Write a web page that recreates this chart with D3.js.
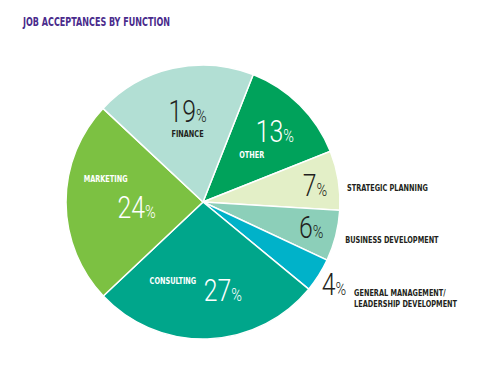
<!DOCTYPE html>
<html>
<head>
<meta charset="utf-8">
<script src="https://cdn.jsdelivr.net/npm/d3@7"></script>
<style>
  body { margin: 0; background: #fff; }
  .cond { font-family: "Liberation Sans Narrow", "DejaVu Sans Condensed", "Roboto", sans-serif; font-weight: bold; }
  .big { font-family: "Roboto", "Liberation Sans", sans-serif; font-weight: 300; }
</style>
</head>
<body>
<svg width="501" height="377"></svg>
<script>
// data, clockwise from the Finance/Other boundary
const categories = ["Other", "Strategic Planning", "Business Development", "General Management/Leadership Development", "Consulting", "Marketing", "Finance"];
const shares = [13, 7, 6, 4, 27, 24, 19];
const colors = ["#00a25b", "#e3efc7", "#8ccfb9", "#00b2c9", "#00a68b", "#7cc142", "#b2dfd4"];
const names = [["OTHER"], ["STRATEGIC PLANNING"], ["BUSINESS DEVELOPMENT"], ["GENERAL MANAGEMENT/", "LEADERSHIP DEVELOPMENT"], ["CONSULTING"], ["MARKETING"], ["FINANCE"]];

let svg = d3.select("svg"),
    cx = 203, cy = 202, radius = 137;

svg.append("text")
    .attr("class", "cond")
    .attr("x", 23)
    .attr("y", 26)
    .attr("font-size", 12)
    .attr("fill", "#4a2b8c")
    .attr("textLength", 147)
    .attr("lengthAdjust", "spacingAndGlyphs")
    .text("JOB ACCEPTANCES BY FUNCTION");

let g = svg.append("g")
    .attr("transform", "translate(" + cx + "," + cy + ")");

let start = 21.5 * Math.PI / 180;
let pie = d3.pie().sort(null).value(function(d) { return d; })
    .startAngle(start).endAngle(start + 2 * Math.PI);
let arc = d3.arc().innerRadius(0).outerRadius(radius);

let arcs = pie(shares);

g.selectAll("path")
    .data(arcs)
  .enter().append("path")
    .attr("d", arc)
    .attr("fill", function(d, i) { return colors[i]; })
    .attr("stroke", "#fff")
    .attr("stroke-width", 1.5);

// label layout, offsets relative to the centroid of a label ring (r = fraction of radius)
const layout = [
  {r: 0.68, nx: 6, ny: 6, lx: -17, ly: 22, anchor: "middle", fill: "#fff"},
  {r: 0.88, nx: -7, ny: 13, lx: 25, ly: 8, anchor: "start", fill: "#231f20"},
  {r: 0.86, nx: -6, ny: 7, lx: 28, ly: 12, anchor: "start", fill: "#231f20"},
  {r: 1.08, nx: 6, ny: 14, lx: 26, ly: 15, anchor: "start", fill: "#231f20"},
  {r: 0.63, nx: 17, ny: 13, lx: -33, ly: -4, anchor: "middle", fill: "#fff"},
  {r: 0.66, nx: 24, ny: 16, lx: -7, ly: -20, anchor: "middle", fill: "#fff"},
  {r: 0.68, nx: 5, ny: 11, lx: 5, ly: 26, anchor: "middle", fill: "#231f20"}
];

arcs.forEach(function(d, i) {
  let L = layout[i];
  let ring = d3.arc().innerRadius(radius * L.r).outerRadius(radius * L.r);
  let c = ring.centroid(d);
  let num = g.append("text")
      .attr("class", "big")
      .attr("transform", "translate(" + (c[0] + L.nx) + "," + (c[1] + L.ny) + ") scale(0.8,1)")
      .attr("text-anchor", "middle")
      .attr("fill", L.fill);
  num.append("tspan").attr("font-size", 31).text(shares[i]);
  num.append("tspan").attr("font-size", 18).text("%");

  names[i].forEach(function(line, k) {
    g.append("text")
        .attr("class", "cond")
        .attr("transform", "translate(" + (c[0] + L.lx) + "," + (c[1] + L.ly + k * 10.7) + ") scale(0.81,1)")
        .attr("text-anchor", L.anchor)
        .attr("font-size", 9)
        .attr("fill", L.fill)
        .text(line);
  });
});
</script>
</body>
</html>
